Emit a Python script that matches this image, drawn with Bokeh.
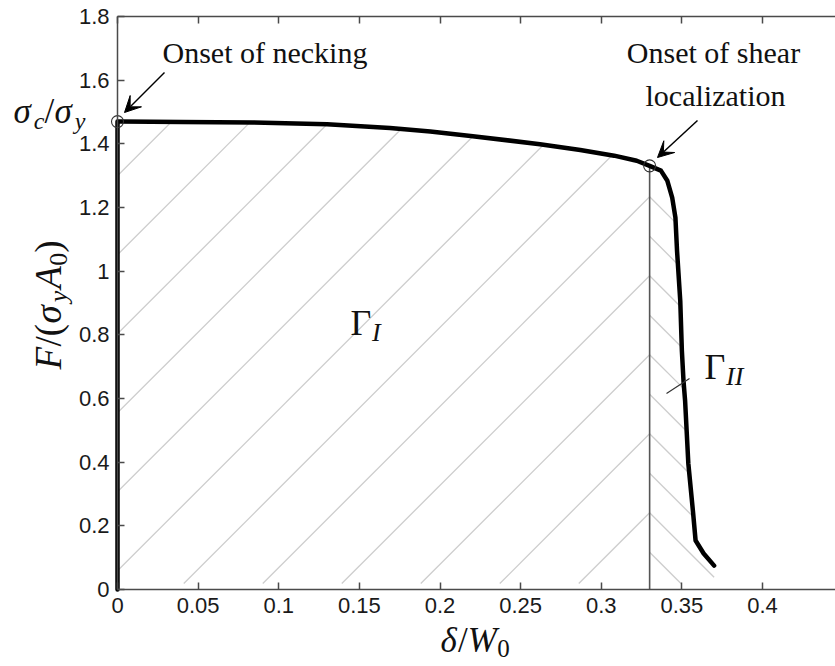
import numpy as np
from bokeh.plotting import figure
from bokeh.models import (Range1d, LinearAxis, FixedTicker, Label, Arrow, VeeHead,
                          NumeralTickFormatter)
from bokeh.embed import file_html
from bokeh.resources import INLINE

# ---------------- data ----------------
disp = [0.0, 0.0, 0.002, 0.040, 0.084, 0.130, 0.169, 0.194, 0.219, 0.262, 0.287,
        0.308, 0.322, 0.330, 0.337, 0.341, 0.344, 0.346, 0.347, 0.349, 0.350,
        0.351, 0.352, 0.354, 0.357, 0.3585, 0.3635, 0.370]
force = [0.0, 1.470, 1.470, 1.469, 1.467, 1.462, 1.450, 1.439, 1.425, 1.399, 1.381,
         1.363, 1.347, 1.331, 1.316, 1.284, 1.231, 1.168, 1.064, 0.907, 0.750,
         0.656, 0.593, 0.396, 0.239, 0.154, 0.113, 0.075]
necking_point = [0.0, 1.470]
shear_point = [0.33, 1.331]

x_ticks = [0, 0.05, 0.1, 0.15, 0.2, 0.25, 0.3, 0.35, 0.4]
x_tick_labels = ["0", "0.05", "0.1", "0.15", "0.2", "0.25", "0.3", "0.35", "0.4"]
y_ticks = [0, 0.2, 0.4, 0.6, 0.8, 1, 1.2, 1.4, 1.6, 1.8]
y_tick_labels = ["0", "0.2", "0.4", "0.6", "0.8", "1", "1.2", "1.4", "1.6", "1.8"]
Y_TOP = 1.8

# ---------------- layout ----------------
W, H = 835, 666
X0_PX, Y0_PX = 117.0, 589.0        # canvas position of the data origin
PXX, PXY = 1612.5, 318.3           # pixels per data unit
K = PXX / PXY                      # data slope of a 45 degree line
X_LO, X_HI = -X0_PX / PXX, (W - X0_PX) / PXX
Y_LO, Y_HI = -(H - Y0_PX) / PXY, Y0_PX / PXY

p = figure(width=W, height=H, x_range=Range1d(X_LO, X_HI), y_range=Range1d(Y_LO, Y_HI),
           output_backend="svg", toolbar_location=None,
           x_axis_location=None, y_axis_location=None,
           min_border_left=0, min_border_right=0, min_border_top=0, min_border_bottom=0)
p.outline_line_color = None
p.grid.visible = False
p.background_fill_color = "white"
p.border_fill_color = "white"

AX_COL = "#4a4a4a"


def make_axis(ticks, labels, loc, bounds, show_labels=True):
    ov = {}
    for t, l in zip(ticks, labels):
        ov[t] = l
        ov[str(t)] = l
    ax = LinearAxis(ticker=FixedTicker(ticks=ticks), major_label_overrides=ov,
                    formatter=NumeralTickFormatter(format="0.[00]"),
                    fixed_location=loc, bounds=bounds)
    ax.axis_line_color = AX_COL
    ax.axis_line_width = 1.5
    ax.major_tick_line_color = AX_COL
    ax.major_tick_line_width = 1.5
    ax.major_tick_in = 7
    ax.major_tick_out = 0
    ax.minor_tick_line_color = None
    ax.major_label_text_font = "Liberation Sans"
    ax.major_label_text_font_size = "22px"
    ax.major_label_standoff = 8
    ax.major_label_text_color = "#1a1a1a" if show_labels else None
    return ax


p.add_layout(make_axis(x_ticks, x_tick_labels, 0, (0, X_HI)), "below")
p.add_layout(make_axis(x_ticks, x_tick_labels, Y_TOP, (0, X_HI), False), "above")
p.add_layout(make_axis(y_ticks, y_tick_labels, 0, (0, Y_TOP)), "left")

# ---------------- hatching ----------------
fx = np.array(disp)
fy = np.array(force)
xs, ys = shear_point
i_s = int(np.argmin(np.abs(fx - xs) + np.abs(fy - ys)))
ybot = 6 / PXY
spacing = 79 / PXX
x_anchor = (578.3 - X0_PX) / PXX - ybot / K

h_x0, h_y0, h_x1, h_y1 = [], [], [], []

# region I: "/" lines below the plateau, left of the vertical line
f1x, f1y = fx[1:i_s + 1], fy[1:i_s + 1]
kmin = int(np.floor((-(f1y.max() / K) - x_anchor) / spacing)) - 1
kmax = int(np.ceil((xs - x_anchor) / spacing)) + 1
for k in range(kmin, kmax + 1):
    x0 = x_anchor + k * spacing
    xa = max(0.0, x0 + ybot / K)
    if xa >= xs:
        continue
    xx = np.linspace(xa, xs, 3000)
    yy = K * (xx - x0)
    ok = yy <= np.interp(xx, f1x, f1y)
    if not ok[0]:
        continue
    j = np.argmax(~ok) - 1 if (~ok).any() else len(xx) - 1
    h_x0.append(xx[0]); h_y0.append(yy[0]); h_x1.append(xx[j]); h_y1.append(yy[j])

# region II: "\" lines between the vertical line and the steep drop
g_y, g_x = fy[i_s:][::-1], fx[i_s:][::-1]
y_anchor = K * (xs - x_anchor)
dy2 = K * spacing / 2
for j2 in range(-40, 40):
    y0 = y_anchor + j2 * dy2
    if y0 <= ybot or y0 >= ys:
        continue
    yy = np.linspace(y0, ybot, 3000)
    xx = xs + (y0 - yy) / K
    ok = xx <= np.interp(yy, g_y, g_x)
    j = np.argmax(~ok) - 1 if (~ok).any() else len(yy) - 1
    if j <= 0:
        continue
    h_x0.append(xx[0]); h_y0.append(yy[0]); h_x1.append(xx[j]); h_y1.append(yy[j])

p.segment(x0=h_x0, y0=h_y0, x1=h_x1, y1=h_y1, line_color="#cdcdcd", line_width=1.3)

# vertical separation line
p.segment(x0=[xs], y0=[0], x1=[xs], y1=[ys], line_color="#555555", line_width=1.6)

# main curve
p.line(disp, force, line_color="black", line_width=4.5, line_join="round", line_cap="round")

# markers
p.scatter([necking_point[0], shear_point[0]], [necking_point[1], shear_point[1]],
          marker="circle", size=12, fill_color=None, line_color="#333333", line_width=1.1)

# ---------------- text ----------------
EM = {"σ": 0.58, "δ": 0.50, "Γ": 0.60, "F": 0.62, "A": 0.62, "W": 0.84, "y": 0.52,
      "c": 0.45, "I": 0.36, "0": 0.5, "/": 0.28, "(": 0.34, ")": 0.34}
DESC = 0.32   # observed offset of the "alphabetic" anchor below the baseline, in em


def tw(text, size):
    return sum(EM.get(ch, 0.5) for ch in text) * size


def label(text, xp, yp, size, style="normal", font="Liberation Serif", align="left",
          angle=0.0, color="#111111"):
    """(xp, yp): page position of the text baseline start."""
    if angle == 0.0:
        yp = yp - DESC * size
    else:
        xp = xp - DESC * size
    p.add_layout(Label(x=xp, y=H - yp, x_units="screen", y_units="screen",
                       text=text, text_font=font, text_font_size=f"{size}px",
                       text_font_style=style, text_align=align, text_baseline="alphabetic",
                       angle=angle, text_color=color))


def math_h(pieces, xp, yp):
    """pieces: (text, size, style, baseline shift down)"""
    x = xp
    for text, size, style, dy in pieces:
        label(text, x, yp + dy, size, style)
        x += tw(text, size)


def math_v(pieces, xp, yp):
    """rotated 90 deg, reading upward, starting at page (xp, yp)"""
    y = yp
    for text, size, style, dy in pieces:
        label(text, xp + dy, y, size, style, angle=np.pi / 2)
        y -= tw(text, size)


label("Onset of necking", 162, 62, 30)
label("Onset of shear", 713, 62, 30, align="center")
label("localization", 715, 105, 30, align="center")

math_h([("σ", 35, "italic", 0), ("c", 24, "italic", 6), ("/", 35, "normal", 0),
        ("σ", 35, "italic", 0), ("y", 24, "italic", 6)], 13, 122)

math_h([("δ", 35, "italic", 0), ("/", 35, "normal", 0), ("W", 35, "italic", 0),
        ("0", 25, "normal", 5)], 440, 651)

math_v([("F", 37, "italic", 0), ("/(", 37, "normal", 0), ("σ", 37, "italic", 0),
        ("y", 26, "italic", 6), ("A", 37, "italic", 0), ("0", 26, "normal", 6),
        (")", 37, "normal", 0)], 60, 369)

math_h([("Γ", 36, "normal", 0), ("I", 26, "italic", 6)], 350, 334)
math_h([("Γ", 36, "normal", 0), ("II", 26, "italic", 6)], 704, 378)

# leader line for Gamma_II
p.add_layout(Arrow(x_start=666, y_start=H - 393, x_end=689, y_end=H - 378,
                   start_units="screen", end_units="screen",
                   end=None, line_color="#333333", line_width=1.2))

# arrows to the two onset points
for (sx, sy, ex, ey) in [(164, 72, 124, 112), (697, 120, 657, 157)]:
    p.add_layout(Arrow(x_start=sx, y_start=H - sy, x_end=ex, y_end=H - ey,
                       start_units="screen", end_units="screen",
                       end=VeeHead(size=16, fill_color="black", line_color="black"),
                       line_color="black", line_width=1.5))

open("out.html", "w").write(file_html(p, INLINE))
